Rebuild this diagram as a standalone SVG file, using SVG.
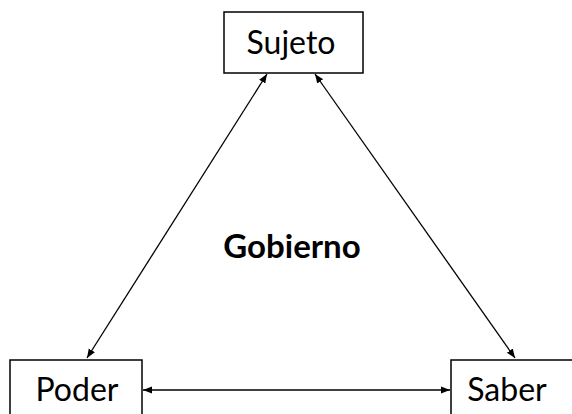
<svg xmlns="http://www.w3.org/2000/svg" width="572" height="414" viewBox="0 0 572 414">
<defs>
<style>
.box{fill:#fff;stroke:#000;stroke-width:1.5}
.lbl{font-family:Lato,"Open Sans",sans-serif;font-size:32px;fill:#000;text-anchor:middle}
.edge{stroke:#000;stroke-width:1.3;fill:none;marker-start:url(#ah);marker-end:url(#ah)}
</style>
<marker id="ah" viewBox="0 0 10 10" refX="10" refY="5" markerWidth="9" markerHeight="9" markerUnits="userSpaceOnUse" orient="auto-start-reverse">
<path d="M0,1 L10,5 L0,9 z" fill="#000"/>
</marker>
</defs>
<rect width="572" height="414" fill="#fff"/>
<g id="connectors">
<line class="edge" x1="267" y1="74" x2="87" y2="358"/>
<line class="edge" x1="315" y1="74" x2="515" y2="358"/>
<line class="edge" x1="143" y1="390" x2="450" y2="390"/>
</g>
<g id="sujeto">
<rect class="box" x="224" y="12" width="139" height="61"/>
<text class="lbl" x="291" y="54">Sujeto</text>
</g>
<g id="poder">
<rect class="box" x="10" y="360" width="132" height="70"/>
<text class="lbl" x="77" y="401">Poder</text>
</g>
<g id="saber">
<rect class="box" x="451" y="360" width="140" height="70"/>
<text class="lbl" x="507" y="401">Saber</text>
</g>
<g id="gobierno">
<text class="lbl" x="292" y="258" style="font-weight:bold;font-size:33px">Gobierno</text>
</g>
</svg>
